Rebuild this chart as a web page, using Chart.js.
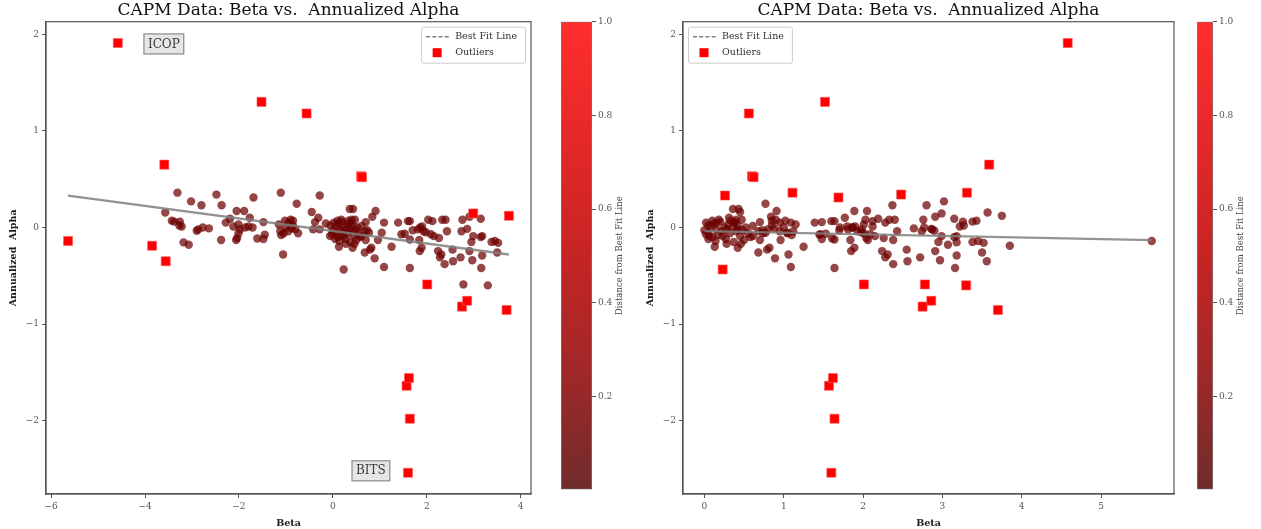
<!DOCTYPE html>
<html>
<head>
<meta charset="utf-8">
<script src="https://cdn.jsdelivr.net/npm/chart.js@4.4.1/dist/chart.umd.min.js"></script>
<style>
  html, body { margin: 0; padding: 0; background: #fff; }
  #wrap { position: relative; width: 1261px; height: 529px; overflow: hidden; }
  .cell { position: absolute; top: 0; height: 529px; }
  canvas { display: block; }
</style>
</head>
<body>
<div id="wrap">
  <div class="cell" style="left:0;width:545px"><canvas id="mainL"></canvas></div>
  <div class="cell" style="left:545px;width:95px"><canvas id="cbarL"></canvas></div>
  <div class="cell" style="left:640px;width:545px"><canvas id="mainR"></canvas></div>
  <div class="cell" style="left:1185px;width:76px"><canvas id="cbarR"></canvas></div>
</div>
<script>
'use strict';

// ── Data: [beta, annualized alpha] ───────────────────────────────────────────

const leftPoints = [
  [-3.57, 0.155], [-3.43, 0.07], [-3.38, 0.06], [-3.31, 0.36], [-3.27, 0.02], [-3.26, 0.06],
  [-3.22, 0.01], [-3.18, -0.155], [-3.07, -0.18], [-3.02, 0.27], [-2.90, -0.035], [-2.87, -0.02],
  [-2.80, 0.23], [-2.77, 0.0], [-2.64, -0.01], [-2.48, 0.34], [-2.38, -0.13], [-2.37, 0.23],
  [-2.28, 0.05], [-2.19, 0.09], [-2.12, 0.01], [-2.06, -0.13], [-2.05, 0.17], [-2.04, -0.11],
  [-2.01, 0.03], [-2.01, -0.06], [-1.98, -0.02], [-1.89, 0.17], [-1.87, 0.0], [-1.80, 0.01],
  [-1.77, 0.10], [-1.71, 0.0], [-1.69, 0.31], [-1.61, -0.115], [-1.48, 0.055], [-1.48, -0.12],
  [-1.45, -0.075], [-1.15, 0.03], [-1.12, -0.04], [-1.11, 0.36], [-1.10, -0.08], [-1.06, -0.28],
  [-1.05, -0.06], [-1.02, 0.07], [-1.00, 0.0], [-0.95, 0.05], [-0.95, -0.04], [-0.90, 0.08],
  [-0.88, -0.01], [-0.85, 0.07], [-0.85, 0.02], [-0.80, -0.02], [-0.77, 0.245], [-0.74, -0.06],
  [-0.45, 0.16], [-0.42, -0.02], [-0.38, 0.055], [-0.31, 0.10], [-0.28, 0.33], [-0.28, -0.02],
  [-0.15, 0.04], [-0.06, -0.09], [-0.05, 0.02], [-0.02, -0.07], [0.00, -0.03], [0.02, 0.05],
  [0.05, -0.06], [0.05, -0.12], [0.08, 0.01], [0.10, -0.10], [0.10, 0.07], [0.12, 0.04],
  [0.13, -0.20], [0.14, -0.14], [0.15, -0.02], [0.17, -0.08], [0.18, 0.08], [0.20, 0.06],
  [0.22, -0.04], [0.23, -0.435], [0.23, -0.09], [0.25, 0.00], [0.27, -0.12], [0.28, -0.17],
  [0.30, 0.03], [0.32, -0.06], [0.33, 0.07], [0.35, -0.01], [0.36, 0.19], [0.37, -0.15],
  [0.38, 0.05], [0.40, 0.08], [0.40, -0.04], [0.42, 0.02], [0.42, -0.21], [0.43, 0.19],
  [0.45, -0.09], [0.46, -0.17], [0.47, 0.08], [0.48, -0.03], [0.50, -0.13], [0.52, 0.00],
  [0.55, -0.06], [0.58, -0.10], [0.61, 0.015], [0.61, -0.09], [0.68, -0.04], [0.68, -0.26],
  [0.70, 0.055], [0.70, -0.13], [0.73, -0.03], [0.77, -0.055], [0.79, -0.23], [0.82, -0.21],
  [0.84, 0.11], [0.89, -0.32], [0.91, 0.17], [0.96, -0.13], [1.04, -0.055], [1.09, 0.05],
  [1.09, -0.41], [1.25, -0.20], [1.39, 0.05], [1.46, -0.07], [1.53, -0.065], [1.60, 0.065],
  [1.64, 0.065], [1.64, -0.125], [1.64, -0.42], [1.70, -0.03], [1.81, -0.02], [1.84, -0.13],
  [1.85, -0.245], [1.86, 0.00], [1.89, -0.21], [1.90, 0.01], [1.93, -0.04], [1.98, -0.05],
  [2.03, 0.08], [2.09, -0.07], [2.12, 0.065], [2.15, -0.09], [2.24, -0.245], [2.26, -0.11],
  [2.28, -0.31], [2.31, -0.28], [2.33, 0.08], [2.38, -0.38], [2.40, 0.08], [2.43, -0.04],
  [2.55, -0.23], [2.56, -0.35], [2.72, -0.31], [2.74, -0.04], [2.76, 0.08], [2.78, -0.59],
  [2.86, -0.015], [2.91, 0.11], [2.91, -0.245], [2.95, -0.15], [2.97, -0.34], [2.99, -0.09],
  [3.15, 0.09], [3.15, -0.10], [3.16, -0.42], [3.18, -0.09], [3.18, -0.29], [3.30, -0.60],
  [3.38, -0.15], [3.45, -0.14], [3.50, -0.26], [3.52, -0.16],
];

const leftOutliers = [
  [-5.64, -0.14], [-4.58, 1.91], [-3.85, -0.19], [-3.59, 0.65], [-3.56, -0.35], [-1.52, 1.30],
  [-0.56, 1.18], [0.60, 0.53], [0.62, 0.52], [1.57, -1.64], [1.60, -2.54], [1.62, -1.56],
  [1.64, -1.98], [2.01, -0.59], [2.75, -0.82], [2.86, -0.76], [2.99, 0.145], [3.70, -0.855],
  [3.75, 0.12],
];

const rightPoints = [
  [3.57, 0.155], [3.43, 0.07], [3.38, 0.06], [3.27, 0.02], [3.26, 0.06], [3.22, 0.01],
  [3.18, -0.155], [3.07, -0.18], [3.02, 0.27], [2.90, -0.035], [2.87, -0.02], [2.80, 0.23],
  [2.77, 0.0], [2.64, -0.01], [2.38, -0.13], [2.37, 0.23], [2.28, 0.05], [2.19, 0.09],
  [2.12, 0.01], [2.06, -0.13], [2.05, 0.17], [2.04, -0.11], [2.01, 0.03], [2.01, -0.06],
  [1.98, -0.02], [1.89, 0.17], [1.87, 0.0], [1.80, 0.01], [1.77, 0.10], [1.71, 0.0],
  [1.61, -0.115], [1.48, 0.055], [1.48, -0.12], [1.45, -0.075], [1.15, 0.03], [1.12, -0.04],
  [1.10, -0.08], [1.06, -0.28], [1.05, -0.06], [1.02, 0.07], [1.00, 0.0], [0.95, 0.05],
  [0.95, -0.04], [0.90, 0.08], [0.88, -0.01], [0.85, 0.07], [0.85, 0.02], [0.80, -0.02],
  [0.77, 0.245], [0.74, -0.06], [0.45, 0.16], [0.42, -0.02], [0.38, 0.055], [0.31, 0.10],
  [0.28, -0.02], [0.15, 0.04], [0.06, -0.09], [0.05, 0.02], [0.02, -0.07], [0.00, -0.03],
  [0.02, 0.05], [0.05, -0.06], [0.05, -0.12], [0.08, 0.01], [0.10, -0.10], [0.10, 0.07],
  [0.12, 0.04], [0.13, -0.20], [0.14, -0.14], [0.15, -0.02], [0.17, -0.08], [0.18, 0.08],
  [0.20, 0.06], [0.22, -0.04], [0.23, -0.09], [0.25, 0.00], [0.27, -0.12], [0.28, -0.17],
  [0.30, 0.03], [0.32, -0.06], [0.33, 0.07], [0.35, -0.01], [0.36, 0.19], [0.37, -0.15],
  [0.38, 0.05], [0.40, 0.08], [0.40, -0.04], [0.42, 0.02], [0.42, -0.21], [0.43, 0.19],
  [0.45, -0.09], [0.46, -0.17], [0.47, 0.08], [0.48, -0.03], [0.50, -0.13], [0.52, 0.00],
  [0.55, -0.06], [0.58, -0.10], [0.61, 0.015], [0.61, -0.09], [0.68, -0.04], [0.68, -0.26],
  [0.70, 0.055], [0.70, -0.13], [0.73, -0.03], [0.77, -0.055], [0.79, -0.23], [0.82, -0.21],
  [0.84, 0.11], [0.89, -0.32], [0.91, 0.17], [0.96, -0.13], [1.04, -0.055], [1.09, 0.05],
  [1.09, -0.41], [1.25, -0.20], [1.39, 0.05], [1.46, -0.07], [1.53, -0.065], [1.60, 0.065],
  [1.64, 0.065], [1.64, -0.125], [1.64, -0.42], [1.70, -0.03], [1.81, -0.02], [1.84, -0.13],
  [1.85, -0.245], [1.86, 0.00], [1.89, -0.21], [1.90, 0.01], [1.93, -0.04], [1.98, -0.05],
  [2.03, 0.08], [2.09, -0.07], [2.12, 0.065], [2.15, -0.09], [2.24, -0.245], [2.26, -0.11],
  [2.28, -0.31], [2.31, -0.28], [2.33, 0.08], [2.38, -0.38], [2.40, 0.08], [2.43, -0.04],
  [2.55, -0.23], [2.56, -0.35], [2.72, -0.31], [2.74, -0.04], [2.76, 0.08], [2.86, -0.015],
  [2.91, 0.11], [2.91, -0.245], [2.95, -0.15], [2.97, -0.34], [2.99, -0.09], [3.15, 0.09],
  [3.15, -0.10], [3.16, -0.42], [3.18, -0.09], [3.18, -0.29], [3.38, -0.15], [3.45, -0.14],
  [3.50, -0.26], [3.52, -0.16], [2.99, 0.145], [3.75, 0.12], [5.64, -0.14], [3.85, -0.19],
  [3.56, -0.35],
];

const rightOutliers = [
  [0.23, -0.435], [0.26, 0.33], [0.56, 1.18], [0.60, 0.53], [0.62, 0.52], [1.11, 0.36],
  [1.52, 1.30], [1.57, -1.64], [1.60, -2.54], [1.62, -1.56], [1.64, -1.98], [1.69, 0.31],
  [2.01, -0.59], [2.48, 0.34], [2.75, -0.82], [2.78, -0.59], [2.86, -0.76], [3.30, -0.60],
  [3.31, 0.36], [3.59, 0.65], [3.70, -0.855], [4.58, 1.91],
];

// best fit lines
const leftFit = { intercept: -0.037, slope: -0.065 };
const rightFit = { intercept: -0.038, slope: -0.0165 };

// text labels placed on the left panel
const noteLabels = ['ICOP', 'BITS'];
const noteBeta = [-3.60, 0.81];
const noteAlpha = [1.90, -2.52];

// tick labels
const leftXTicks = [-6, -4, -2, 0, 2, 4];
const rightXTicks = [0, 1, 2, 3, 4, 5];
const alphaTicks = [-2, -1, 0, 1, 2];
const cbarTicks = [0.2, 0.4, 0.6, 0.8, 1.0];

const TITLE = 'CAPM Data: Beta vs.  Annualized Alpha';
const SERIF = "'DejaVu Serif', 'Liberation Serif', serif";
const AXIS_GREY = '#555555';

// ── helpers ──────────────────────────────────────────────────────────────────

const fmtTick = (v) => (v < 0 ? '\u2212' + Math.abs(v) : String(v));

function fitLine(points, outliers, fit) {
  const xs = points.concat(outliers).map(p => p[0]);
  const lo = Math.min(...xs);
  const hi = Math.max(...xs);
  return [lo, hi].map(x => ({ x, y: fit.intercept + fit.slope * x }));
}

const frameBox = {
  id: 'frameBox',
  afterDatasetsDraw(chart) {
    const a = chart.chartArea;
    const ctx = chart.ctx;
    ctx.save();
    ctx.strokeStyle = AXIS_GREY;
    ctx.lineWidth = 1.2;
    ctx.strokeRect(a.left, a.top, a.right - a.left, a.bottom - a.top);
    ctx.restore();
  },
};

// matplotlib-like legend box
const fitLegend = {
  id: 'fitLegend',
  afterDatasetsDraw(chart, args, opts) {
    const a = chart.chartArea;
    const ctx = chart.ctx;
    ctx.save();
    ctx.font = `9.5px ${SERIF}`;
    const labels = ['Best Fit Line', 'Outliers'];
    const tw = Math.max(...labels.map(t => ctx.measureText(t).width));
    const w = 36 + tw + 6;
    const h = 36;
    const bx = opts.side === 'right' ? a.right - 6 - w : a.left + 5;
    const by = a.top + 5;
    ctx.fillStyle = 'rgba(255,255,255,0.85)';
    ctx.strokeStyle = '#cccccc';
    ctx.lineWidth = 1;
    ctx.beginPath();
    ctx.roundRect(bx + 0.5, by + 0.5, w, h, 2);
    ctx.fill();
    ctx.stroke();

    const y1 = by + 10;
    const y2 = by + 26;
    ctx.strokeStyle = '#808080';
    ctx.lineWidth = 1.5;
    ctx.setLineDash([4, 2.2]);
    ctx.beginPath();
    ctx.moveTo(bx + 5, y1);
    ctx.lineTo(bx + 28, y1);
    ctx.stroke();
    ctx.setLineDash([]);

    ctx.fillStyle = '#ff0000';
    ctx.fillRect(bx + 11.5, y2 - 4.5, 9, 9);

    ctx.fillStyle = '#333333';
    ctx.textBaseline = 'middle';
    ctx.fillText(labels[0], bx + 34, y1);
    ctx.fillText(labels[1], bx + 34, y2);
    ctx.restore();
  },
};

const tickerNotes = {
  id: 'tickerNotes',
  afterDatasetsDraw(chart, args, opts) {
    if (!opts.show) return;
    const ctx = chart.ctx;
    const xs = chart.scales.x;
    const ys = chart.scales.y;
    ctx.save();
    ctx.font = `12px ${SERIF}`;
    ctx.textAlign = 'center';
    ctx.textBaseline = 'middle';
    noteLabels.forEach((label, i) => {
      const px = xs.getPixelForValue(noteBeta[i]);
      const py = ys.getPixelForValue(noteAlpha[i]);
      const w = ctx.measureText(label).width + 8;
      const h = 20;
      ctx.fillStyle = '#e6e6e6';
      ctx.strokeStyle = '#8a8a8a';
      ctx.lineWidth = 1.2;
      ctx.fillRect(px - w / 2, py - h / 2, w, h);
      ctx.strokeRect(px - w / 2, py - h / 2, w, h);
      ctx.fillStyle = '#3a3a3a';
      ctx.fillText(label, px, py + 0.5);
    });
    ctx.restore();
  },
};

function makeMain(canvasId, points, outliers, fit, cfg) {
  const ctx = document.getElementById(canvasId).getContext('2d');
  return new Chart(ctx, {
    type: 'scatter',
    data: {
      datasets: [
        {
          label: 'Outliers',
          data: outliers.map(p => ({ x: p[0], y: p[1] })),
          pointStyle: 'rect',
          pointRadius: 6.4,
          backgroundColor: '#ff0000',
          borderColor: 'rgba(255,90,90,0.6)',
          pointBorderWidth: 1,
        },
        {
          type: 'line',
          label: 'Best Fit Line',
          data: fitLine(points, outliers, fit),
          borderColor: 'rgba(128,128,128,0.85)',
          borderWidth: 2.4,
          pointRadius: 0,
          fill: false,
        },
        {
          label: 'Stocks',
          data: points.map(p => ({ x: p[0], y: p[1] })),
          pointStyle: 'circle',
          pointRadius: 4.2,
          backgroundColor: 'rgba(108,0,0,0.72)',
          pointBorderWidth: 0,
        },
      ],
    },
    options: {
      responsive: true,
      maintainAspectRatio: false,
      animation: false,
      events: [],
      layout: { padding: { left: 0, right: cfg.padRight, top: 0, bottom: 0 } },
      plugins: {
        legend: { display: false },
        tooltip: { enabled: false },
        title: {
          display: true,
          text: TITLE,
          fullSize: false,
          color: '#111111',
          font: { family: SERIF, size: 17, weight: 'normal', lineHeight: 1.2 },
          padding: { top: 0, bottom: 1.3 },
        },
        fitLegend: { side: cfg.legendSide },
        tickerNotes: { show: cfg.notes },
      },
      scales: {
        x: {
          type: 'linear',
          min: cfg.xMin,
          max: cfg.xMax,
          afterBuildTicks: (s) => { s.ticks = cfg.xTicks.map(v => ({ value: v })); },
          afterFit: (s) => { s.height = 35; },
          ticks: {
            color: AXIS_GREY,
            font: { family: SERIF, size: 9 },
            padding: 3,
            maxRotation: 0,
            callback: fmtTick,
          },
          grid: { drawOnChartArea: false, tickLength: 4, color: AXIS_GREY, lineWidth: 1 },
          border: { color: AXIS_GREY, width: 1.2 },
          title: {
            display: true,
            text: 'Beta',
            color: '#1a1a1a',
            font: { family: SERIF, size: 9.5, weight: 'bold' },
            padding: { top: 1, bottom: 0 },
          },
        },
        y: {
          type: 'linear',
          min: -2.76,
          max: 2.13,
          afterBuildTicks: (s) => { s.ticks = alphaTicks.map(v => ({ value: v })); },
          afterFit: (s) => { s.width = cfg.yWidth; },
          ticks: {
            color: AXIS_GREY,
            font: { family: SERIF, size: 9 },
            padding: 3,
            callback: fmtTick,
          },
          grid: { drawOnChartArea: false, tickLength: 4, color: AXIS_GREY, lineWidth: 1 },
          border: { color: AXIS_GREY, width: 1.2 },
          title: {
            display: true,
            text: 'Annualized  Alpha',
            color: '#1a1a1a',
            font: { family: SERIF, size: 9.5, weight: 'bold' },
            padding: { top: cfg.titlePad, bottom: 4 },
          },
        },
      },
    },
    plugins: [frameBox, fitLegend, tickerNotes],
  });
}

// ── colour bar ───────────────────────────────────────────────────────────────

const cbarLabel = {
  id: 'cbarLabel',
  afterDraw(chart) {
    const a = chart.chartArea;
    const ctx = chart.ctx;
    ctx.save();
    ctx.translate(a.right + 28, (a.top + a.bottom) / 2);
    ctx.rotate(-Math.PI / 2);
    ctx.font = `8.5px ${SERIF}`;
    ctx.fillStyle = '#444444';
    ctx.textAlign = 'center';
    ctx.textBaseline = 'middle';
    ctx.fillText('Distance from Best Fit Line', 0, 0);
    ctx.restore();
  },
};

function makeColorBar(canvasId, padLeft) {
  const ctx = document.getElementById(canvasId).getContext('2d');
  return new Chart(ctx, {
    type: 'bar',
    data: {
      labels: ['distance'],
      datasets: [{
        data: [[0.002, 1.0]],
        backgroundColor: (c) => {
          const area = c.chart.chartArea;
          if (!area) return 'rgb(180,30,30)';
          const g = c.chart.ctx.createLinearGradient(0, area.bottom, 0, area.top);
          g.addColorStop(0, 'rgb(112,44,44)');
          g.addColorStop(0.25, 'rgb(160,40,40)');
          g.addColorStop(0.5, 'rgb(198,36,36)');
          g.addColorStop(0.75, 'rgb(230,40,40)');
          g.addColorStop(1, 'rgb(255,46,46)');
          return g;
        },
        borderColor: '#777777',
        borderWidth: 1,
        borderSkipped: false,
        barPercentage: 1,
        categoryPercentage: 1,
      }],
    },
    options: {
      responsive: true,
      maintainAspectRatio: false,
      animation: false,
      events: [],
      layout: { padding: { left: padLeft, right: 0, top: 21.7, bottom: 39.6 } },
      plugins: { legend: { display: false }, tooltip: { enabled: false } },
      scales: {
        x: { display: false },
        y: {
          position: 'right',
          min: 0.002,
          max: 1.0,
          afterBuildTicks: (s) => { s.ticks = cbarTicks.map(v => ({ value: v })); },
          afterFit: (s) => { s.width = 48; },
          ticks: {
            color: AXIS_GREY,
            font: { family: SERIF, size: 9 },
            padding: 2,
            callback: (v) => v.toFixed(1),
          },
          grid: { drawOnChartArea: false, tickLength: 4, color: AXIS_GREY, lineWidth: 1 },
          border: { display: false },
        },
      },
    },
    plugins: [cbarLabel],
  });
}

makeMain('mainL', leftPoints, leftOutliers, leftFit, {
  xMin: -6.11, xMax: 4.22, xTicks: leftXTicks, yWidth: 46, padRight: 14,
  legendSide: 'right', notes: true, titlePad: 8,
});
makeMain('mainR', rightPoints, rightOutliers, rightFit, {
  xMin: -0.27, xMax: 5.92, xTicks: rightXTicks, yWidth: 43, padRight: 11,
  legendSide: 'left', notes: false, titlePad: 5,
});
makeColorBar('cbarL', 16);
makeColorBar('cbarR', 12);
</script>
</body>
</html>
